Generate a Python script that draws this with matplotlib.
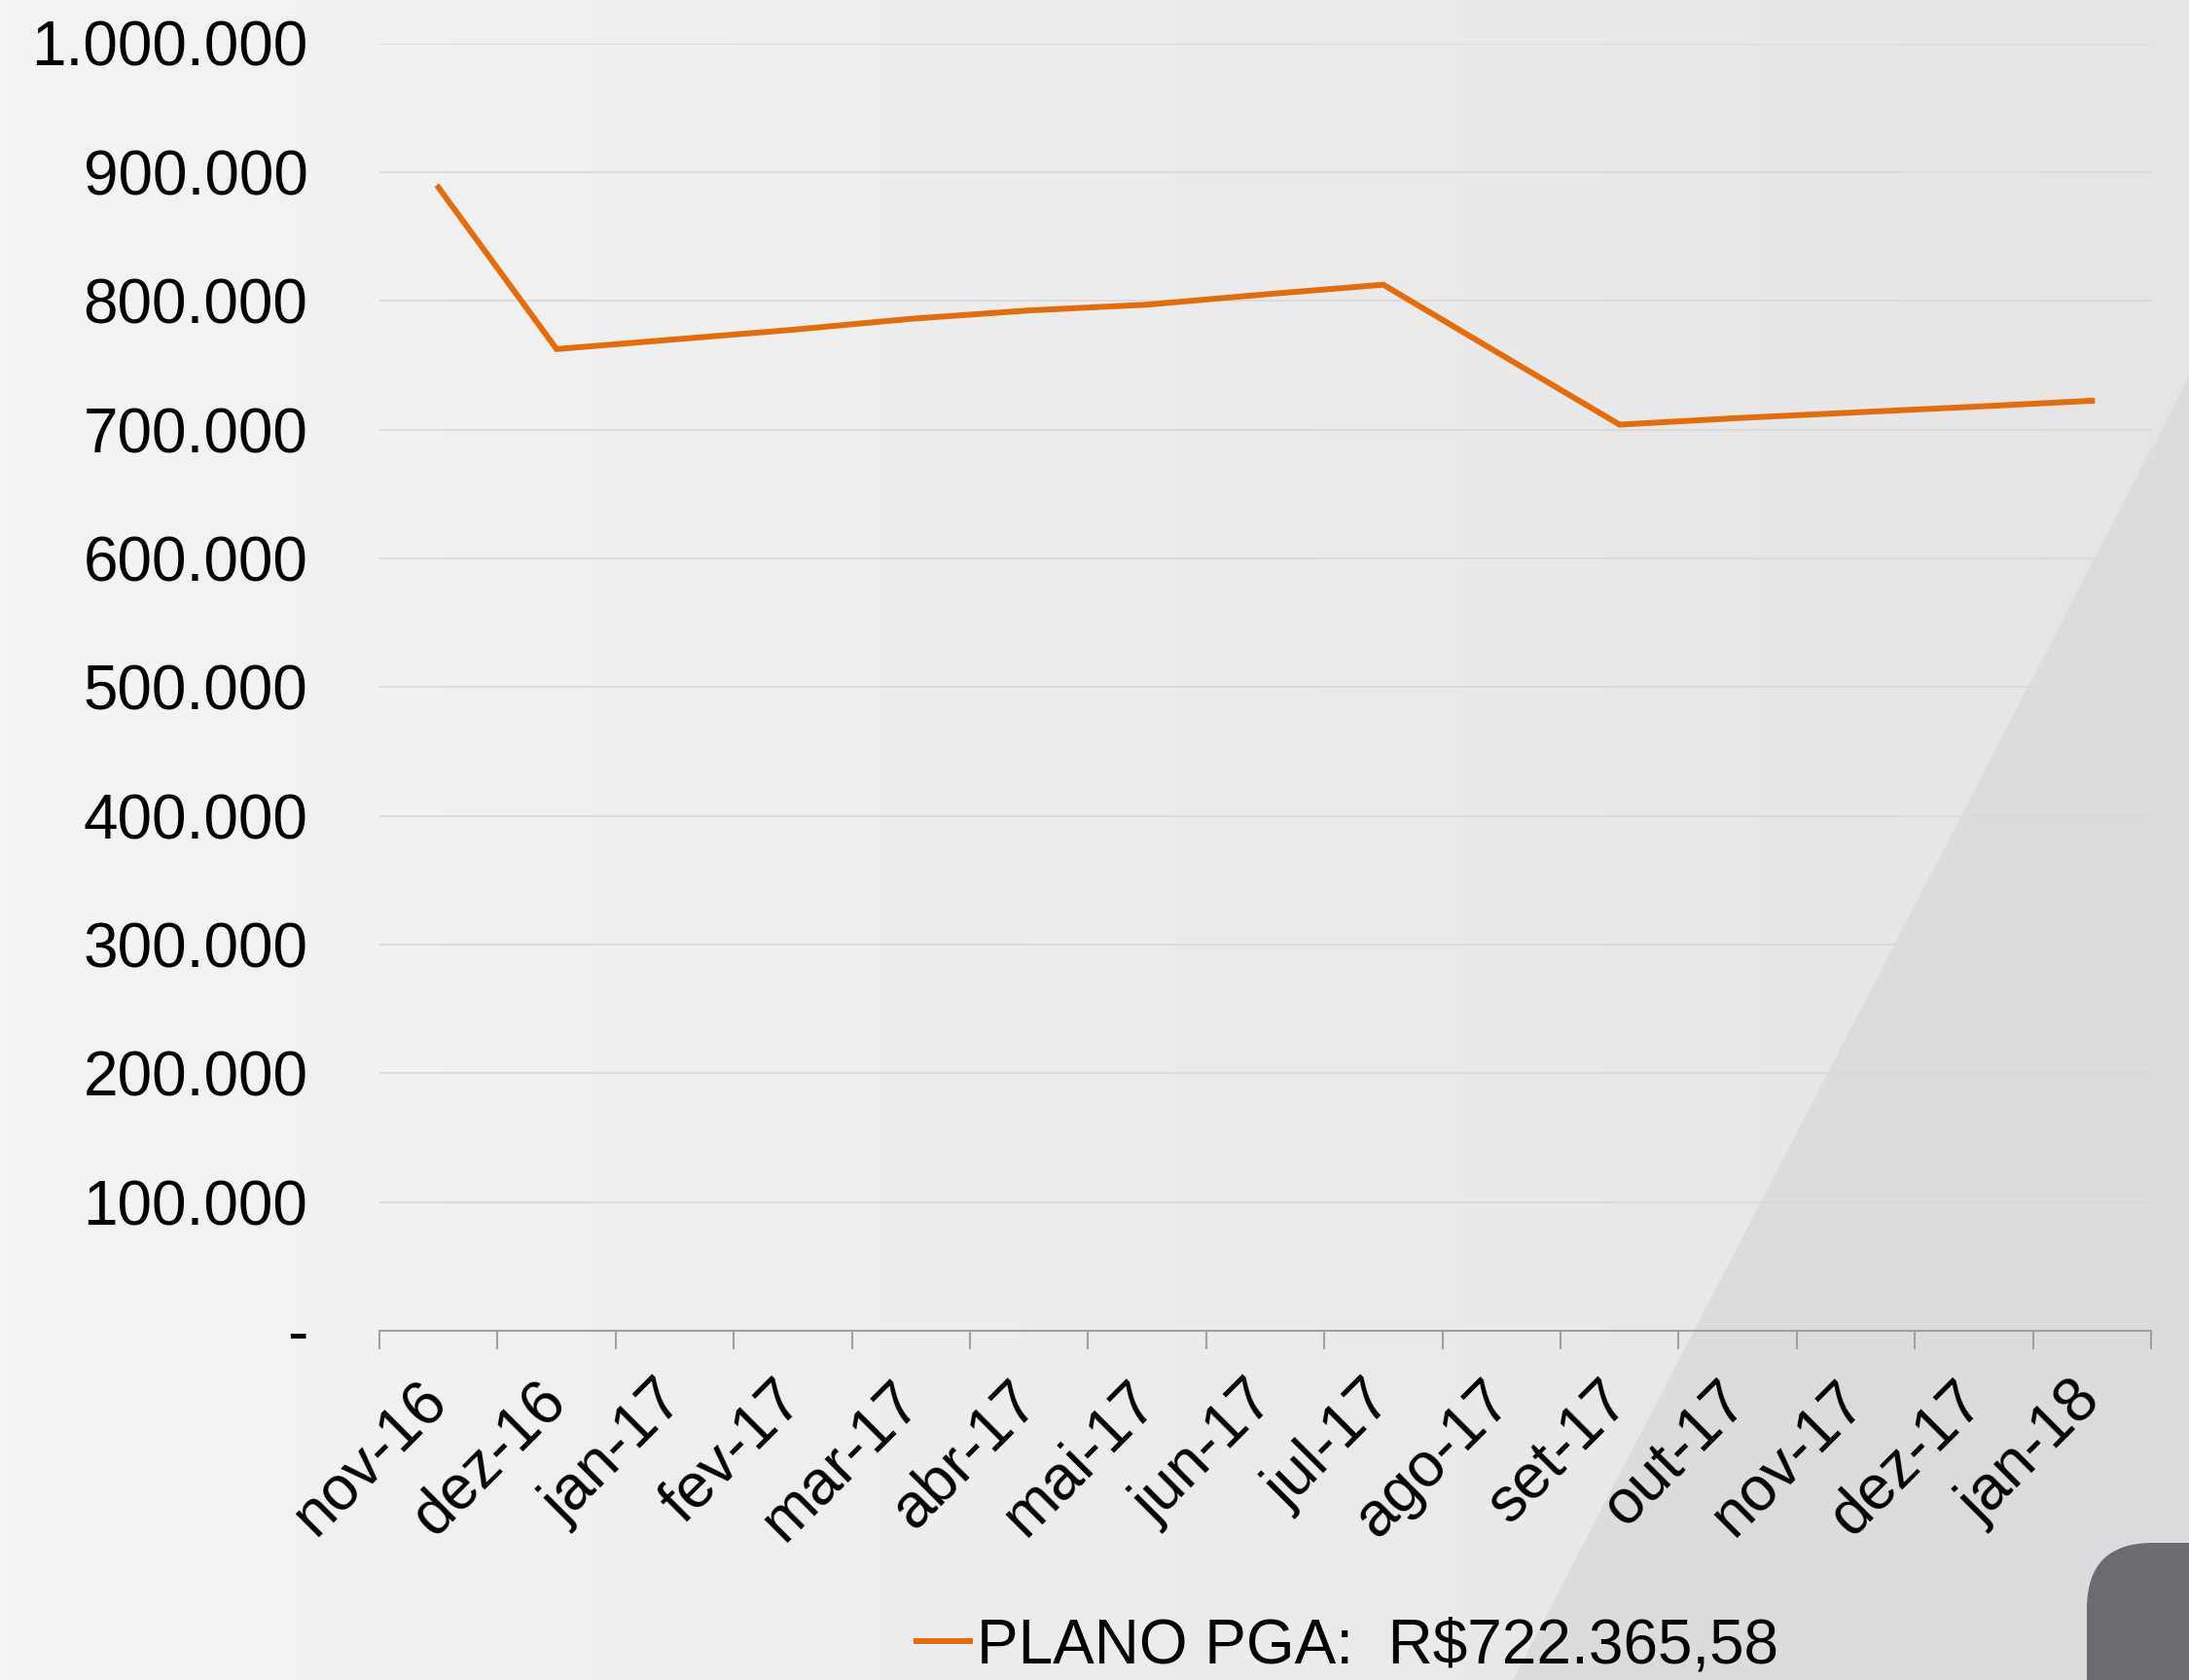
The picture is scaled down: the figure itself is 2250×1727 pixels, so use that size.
import matplotlib
matplotlib.use("Agg")
import matplotlib.pyplot as plt
import numpy as np
from matplotlib.colors import LinearSegmentedColormap
from matplotlib.patches import Polygon, FancyBboxPatch
from matplotlib.ticker import FuncFormatter
from matplotlib.lines import Line2D

plt.rcParams['font.family'] = ['Liberation Sans', 'DejaVu Sans']

months = ['nov-16', 'dez-16', 'jan-17', 'fev-17', 'mar-17', 'abr-17', 'mai-17',
          'jun-17', 'jul-17', 'ago-17', 'set-17', 'out-17', 'nov-17', 'dez-17', 'jan-18']
pga = [888000, 762500, 770000, 777500, 786000, 792500, 797000,
       805000, 812500, 758000, 703800, 708900, 713300, 717700, 722365.58]
legend_label = 'PLANO PGA:  R$722.365,58'

orange = '#e46c0a'
W, H = 2250, 1727
fig = plt.figure(figsize=(W / 100, H / 100), dpi=100)

# slide background
bg = fig.add_axes([0, 0, 1, 1], zorder=0)
bg.set_xlim(0, 1)
bg.set_ylim(0, 1)
bg.axis('off')
grad = np.linspace(0, 1, 256).reshape(1, -1)
cmap = LinearSegmentedColormap.from_list('bg', ['#f4f4f5', '#e5e5e7'])
bg.imshow(grad, extent=[0, 1, 0, 1], aspect='auto', cmap=cmap)
bg.add_patch(Polygon([(1, 1 - 387 / H), (1555 / W, 0), (1, 0)],
                     closed=True, color='#dcdcde', lw=0))
bg.add_patch(FancyBboxPatch((2145 / W, -0.1), 0.2, (H - 1586) / H + 0.1,
                            boxstyle='round,pad=0,rounding_size=0.03',
                            mutation_aspect=W / H, color='#6b6c70', lw=0))

ax = fig.add_axes([390 / W, 1 - 1368 / H, 1821 / W, (1368 - 44.5) / H], zorder=1)
ax.patch.set_alpha(0)

x = np.arange(len(months))
ax.plot(x, pga, color=orange, lw=4.3, solid_joinstyle='miter', zorder=3)

ax.set_xlim(-0.5, len(months) - 0.5)
ax.set_ylim(0, 1000000)
ax.set_yticks(np.arange(0, 1000001, 100000))
ax.yaxis.set_major_formatter(FuncFormatter(
    lambda v, p: '-' if v == 0 else f'{int(v):,}'.replace(',', '.')))
ax.grid(axis='y', color='#d9d9d9', lw=1.3)
ax.set_axisbelow(True)

for s in ['top', 'right', 'left']:
    ax.spines[s].set_visible(False)
ax.spines['bottom'].set_color('#a0a0a0')
ax.spines['bottom'].set_linewidth(1.5)

ax.set_xticks(x)
ax.set_xticklabels(months, rotation=45, ha='right', va='center', rotation_mode='anchor')
ax.set_xticks(np.arange(-0.5, len(months), 1), minor=True)
ax.tick_params(axis='x', which='major', length=0, pad=45, labelsize=46)
ax.tick_params(axis='x', which='minor', length=13.5, width=1.5, color='#a0a0a0')
ax.tick_params(axis='y', length=0, pad=53, labelsize=46)

handle = Line2D([], [], color=orange, lw=4.3)
fig.legend([handle], [legend_label], loc='center', bbox_to_anchor=(0.6155, 0.02),
           frameon=False, fontsize=46, handlelength=0.86, handletextpad=0.1)

fig.savefig('out.png', dpi=100)
